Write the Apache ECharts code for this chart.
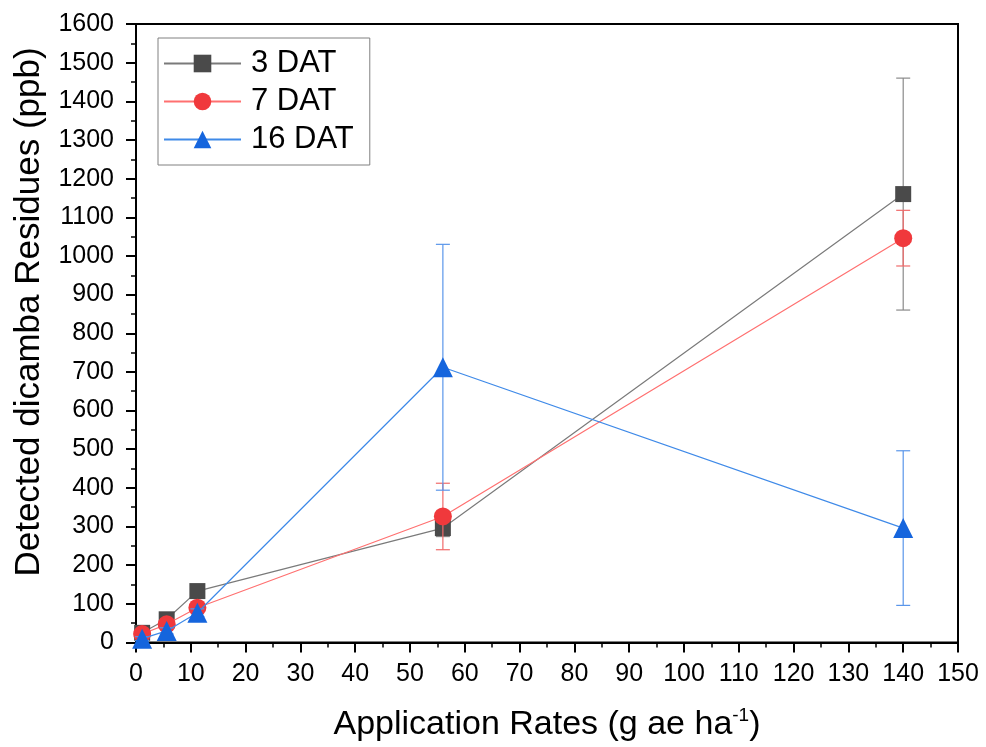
<!DOCTYPE html>
<html><head><meta charset="utf-8">
<script src="https://cdn.jsdelivr.net/npm/echarts@6/dist/echarts.min.js"></script>
<style>html,body{margin:0;padding:0;background:#fff}#c{width:986px;height:747px}</style>
</head><body><div id="c"></div>
<script>
const xValues = [1.12, 5.6, 11.2, 56, 140];
const seriesNames = ['3 DAT', '7 DAT', '16 DAT'];
const dat3 = [25, 60, 133, 296, 1160];
const dat3Err = [5, 8, 10, 22, 300];
const dat7 = [22, 47, 90, 326, 1046];
const dat7Err = [5, 8, 10, 86, 72];
const dat16 = [10, 30, 77, 712, 296];
const dat16Err = [5, 8, 10, 318, 200];
const xTicks = [0,10,20,30,40,50,60,70,80,90,100,110,120,130,140,150];
const yTicks = [0,100,200,300,400,500,600,700,800,900,1000,1100,1200,1300,1400,1500,1600];
const yTitle = 'Detected dicamba Residues (ppb)';

const FONT = 'Liberation Sans, Arial, sans-serif';
const styles = [
  {marker:'#4a4a4a', line:'#7a7a7a', err:'#8a8a8a', symbol:'rect', size:16},
  {marker:'#f0393c', line:'#ff7070', err:'#f06a6a', symbol:'circle', size:18},
  {marker:'#1565dd', line:'#3f8ae8', err:'#5a96ea', symbol:'triangle', size:20}
];
const vals = [dat3, dat7, dat16];
const errs = [dat3Err, dat7Err, dat16Err];

function errRender(color){
  return function(params, api){
    const x = api.value(0), lo = api.value(1), hi = api.value(2);
    const p1 = api.coord([x, hi]), p2 = api.coord([x, lo]);
    const w = 7;
    const st = {stroke: color, lineWidth: 1.2};
    return {type:'group', children:[
      {type:'line', shape:{x1:p1[0], y1:p1[1], x2:p2[0], y2:p2[1]}, style:st},
      {type:'line', shape:{x1:p1[0]-w, y1:p1[1], x2:p1[0]+w, y2:p1[1]}, style:st},
      {type:'line', shape:{x1:p2[0]-w, y1:p2[1], x2:p2[0]+w, y2:p2[1]}, style:st}
    ]};
  };
}

const series = [];
vals.forEach((v, i) => {
  series.push({
    type:'custom', name: seriesNames[i] + ' err', renderItem: errRender(styles[i].err),
    data: xValues.map((x, k) => [x, v[k] - errs[i][k], v[k] + errs[i][k]]),
    z: 1 + i*2, silent: true, legendHoverLink:false
  });
});
vals.forEach((v, i) => {
  series.push({
    type:'line', name: seriesNames[i],
    data: xValues.map((x, k) => [x, v[k]]),
    symbol: styles[i].symbol, symbolSize: styles[i].size,
    color: styles[i].marker,
    lineStyle:{color: styles[i].line, width:1.2},
    itemStyle:{color: styles[i].marker},
    emphasis:{disabled:true},
    z: 2 + i*2
  });
});

const chart = echarts.init(document.getElementById('c'), null, {renderer:'canvas'});
chart.setOption({
  animation:false,
  backgroundColor:'#fff',
  grid:{left:136, right:28, top:24, bottom:102, show:true, borderColor:'#000', borderWidth:2, backgroundColor:'transparent'},
  legend:{
    data: seriesNames,
    orient:'vertical', left:158, top:38,
    itemWidth:77, itemHeight:22, itemGap:7,
    borderColor:'#808080', borderWidth:1, padding:[10,16,10,5],
    textStyle:{fontFamily:FONT, fontSize:31, color:'#000', lineHeight:31, padding:[0,0,0,5]}
  },
  graphic:[{
    type:'text', x:29, y:312, rotation: Math.PI/2,
    style:{text: yTitle, fontFamily:FONT, fontSize:35, fill:'#000', align:'center', verticalAlign:'middle'}
  }],
  xAxis:{
    type:'value', min:0, max:150, interval:10,
    name:'{a|Application Rates (g ae ha}{s|-1}{a|)}', nameLocation:'middle', nameGap:64,
    nameTextStyle:{rich:{a:{fontFamily:FONT, fontSize:34, color:'#000'}, s:{fontFamily:FONT, fontSize:19, color:'#000', verticalAlign:'bottom', padding:[0,0,18,0]}}},
    axisLine:{lineStyle:{color:'#000', width:2}},
    axisTick:{length:10, lineStyle:{color:'#000', width:2}},
    minorTick:{show:true, splitNumber:2, length:5, lineStyle:{color:'#000', width:1.5}},
    axisLabel:{fontFamily:FONT, fontSize:25, color:'#000', margin:19},
    splitLine:{show:false}
  },
  yAxis:{
    type:'value', min:0, max:1600, interval:100,
    axisLine:{show:true, lineStyle:{color:'#000', width:2}},
    axisTick:{show:true, length:10, lineStyle:{color:'#000', width:2}},
    minorTick:{show:true, splitNumber:2, length:5, lineStyle:{color:'#000', width:1.5}},
    axisLabel:{fontFamily:FONT, fontSize:25, color:'#000', margin:22, formatter: v => String(v)},
    splitLine:{show:false}
  },
  series: series
});
</script>
</body></html>
